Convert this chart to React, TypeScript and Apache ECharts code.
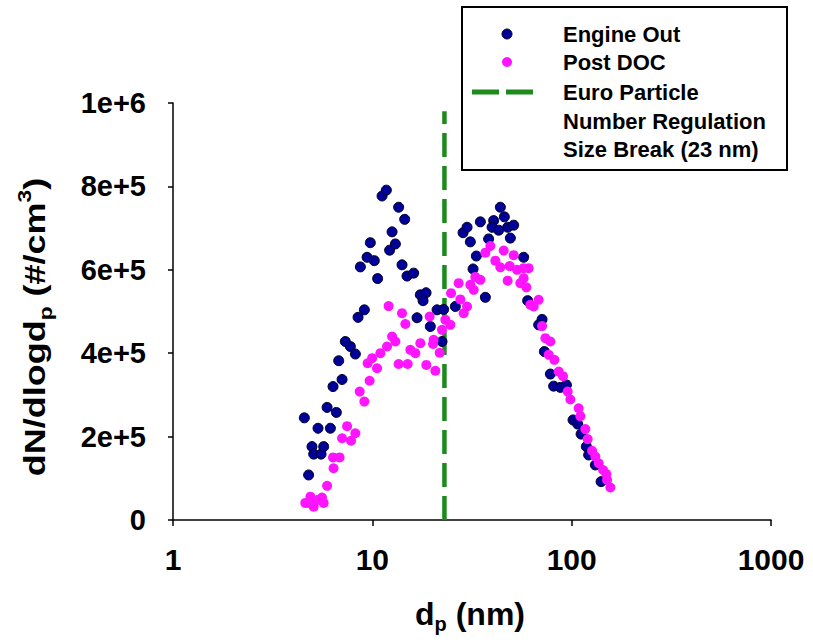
import React, { useEffect, useRef } from "react";
import * as echarts from "echarts";

// Engine Out: particle diameter (nm) and dN/dlogdp (#/cm3)
const engineDp = [
  4.56, 4.79, 4.98, 5.08, 5.53, 5.7, 5.34, 6.16, 5.93, 6.6, 6.35, 7.05, 6.78, 7.32, 7.76, 8.22,
  8.48, 9.12, 8.71, 9.41, 10.23, 9.77, 10.63, 11.19, 11.76, 12.21, 12.56, 13.05, 13.55, 14.53,
  14.09, 14.93, 16.12, 17.41, 18.6, 17.97, 16.76, 19.54, 21.12, 22.79, 22.37, 26.09, 28.52,
  29.87, 31.02, 33.25, 32.01, 34.83, 40.6, 39.87, 38.32, 43.03, 43.88, 45.95, 47.74, 51.17,
  49.25, 57.43, 36.9, 60.14, 71.04, 68.3, 72.95, 78.2, 81.2, 87.8, 94.1, 101.6, 107.2, 111.5,
  118.5, 121.7, 131.5, 140.5,
];
const engineN = [
  245000, 108000, 176000, 158000, 158000, 176000, 220000, 220000, 270000, 258000, 320000,
  337000, 382000, 428000, 416000, 398000, 486000, 504000, 607000, 630000, 622000, 665000,
  579000, 777000, 791000, 647000, 691000, 662000, 750000, 721000, 612000, 585000, 592000,
  540000, 545000, 526000, 485000, 464000, 504000, 505000, 428000, 512000, 689000, 702000,
  667000, 633000, 602000, 715000, 718000, 702000, 674000, 695000, 750000, 727000, 702000,
  707000, 676000, 630000, 534000, 526000, 481000, 468000, 404000, 350000, 321000, 318000,
  324000, 240000, 230000, 206000, 176000, 156000, 132000, 92000,
];

// Post DOC
const docDp = [
  4.61, 4.89, 5.28, 5.59, 5.08, 5.7, 4.77, 5.93, 6.39, 6.35, 6.85, 7.05, 7.82, 7.47, 8.22, 8.64,
  9.12, 9.69, 9.47, 10.56, 9.97, 10.97, 11.85, 13.05, 12.07, 14.09, 14.64, 12.56, 13.55, 15.04,
  15.51, 16.44, 17.41, 20.16, 21.77, 18.66, 20.71, 19.39, 23.25, 24.63, 22.37, 20.3, 24.83,
  27.1, 27.64, 29.87, 28.72, 31.02, 32.87, 32.24, 34.83, 36.9, 39.09, 41.41, 43.88, 45.6, 51.17,
  48.86, 53.2, 57.43, 60.85, 57.43, 47.74, 55.27, 59.25, 62.06, 68.3, 64.5, 71.04, 73.8, 78.2,
  76.7, 81.9, 86.1, 90.5, 95.5, 98.5, 108.4, 110.6, 117.1, 120.3, 126.6, 131.5, 136.6, 143.8,
  149.3, 150.5, 156.4,
];
const docN = [
  41000, 56000, 48000, 54000, 32000, 41000, 41000, 82000, 124000, 150000, 150000, 196000,
  190000, 225000, 208000, 308000, 284000, 334000, 376000, 364000, 388000, 400000, 416000,
  428000, 513000, 496000, 470000, 440000, 374000, 374000, 408000, 400000, 424000, 422000,
  401000, 372000, 358000, 488000, 480000, 468000, 456000, 432000, 544000, 568000, 529000,
  512000, 496000, 564000, 583000, 552000, 576000, 641000, 657000, 622000, 606000, 646000,
  635000, 609000, 600000, 604000, 604000, 580000, 574000, 568000, 558000, 516000, 528000,
  512000, 465000, 436000, 428000, 396000, 384000, 356000, 345000, 308000, 289000, 268000,
  249000, 218000, 194000, 166000, 152000, 136000, 120000, 110000, 96000, 78000,
];

// Euro particle number regulation size break
const breakDp = [23, 23];
const breakN = [0, 980000];

const xTicks = [1, 10, 100, 1000];
const yTicks = [0, 200000, 400000, 600000, 800000, 1000000];

const BLUE = "#000099";
const MAGENTA = "#ff14ff";
const GREEN = "#1c8a1c";
const FONT = "'Liberation Sans', Arial, sans-serif";

export default function App() {
  const ref = useRef<HTMLDivElement>(null);
  useEffect(() => {
    document.body.style.margin = "0";
    const chart = echarts.init(ref.current!, null, { renderer: "svg" });
    const pairs = (xs: number[], ys: number[]) => xs.map((x, i) => [x, ys[i]]);
    const legendTextStyle = {
      fontSize: 22,
      fontWeight: "bold",
      fontFamily: FONT,
      fill: "#000",
      verticalAlign: "middle",
      align: "left",
    };
    chart.setOption({
      animation: false,
      backgroundColor: "#fff",
      textStyle: { fontFamily: FONT },
      grid: { left: 173, right: 42, top: 103, bottom: 122, containLabel: false },
      xAxis: {
        type: "log",
        logBase: 10,
        min: xTicks[0],
        max: xTicks[xTicks.length - 1],
        axisLine: { show: true, lineStyle: { color: "#000", width: 1.5 } },
        axisTick: { show: true, length: 6, lineStyle: { color: "#000", width: 1.5 } },
        minorTick: { show: false },
        splitLine: { show: false },
        axisLabel: {
          fontSize: 30,
          fontWeight: "bold",
          color: "#000",
          margin: 24,
          showMaxLabel: true,
          showMinLabel: true,
          formatter: (v: number) => String(Math.round(v)),
        },
      },
      yAxis: {
        type: "value",
        min: yTicks[0],
        max: yTicks[yTicks.length - 1],
        interval: yTicks[1] - yTicks[0],
        axisLine: { show: true, lineStyle: { color: "#000", width: 1.5 } },
        axisTick: { show: true, length: 5, lineStyle: { color: "#000", width: 1.5 } },
        splitLine: { show: false },
        axisLabel: {
          fontSize: 29,
          fontWeight: "bold",
          color: "#000",
          margin: 27,
          formatter: (v: number) => (v === 0 ? "0" : v.toExponential(0)),
        },
      },
      series: [
        {
          name: "Euro Particle Number Regulation Size Break (23 nm)",
          type: "line",
          data: pairs(breakDp, breakN),
          symbol: "none",
          lineStyle: { color: GREEN, width: 4.5, type: [24, 9] },
          z: 1,
        },
        {
          name: "Engine Out",
          type: "scatter",
          data: pairs(engineDp, engineN),
          symbol: "circle",
          symbolSize: 10,
          itemStyle: { color: BLUE, borderColor: "#000022", borderWidth: 1, opacity: 1 },
          z: 2,
        },
        {
          name: "Post DOC",
          type: "scatter",
          data: pairs(docDp, docN),
          symbol: "circle",
          symbolSize: 10,
          itemStyle: { color: MAGENTA, opacity: 1 },
          z: 3,
        },
      ],
      graphic: [
        {
          type: "text",
          x: 35,
          y: 327,
          rotation: Math.PI / 2,
          scaleX: 1.2,
          style: {
            text: "{a|dN/dlogd}{s|p}{a| (#/cm}{u|3}{a|)}",
            align: "center",
            verticalAlign: "middle",
            fill: "#000",
            rich: {
              a: { fontSize: 30, fontWeight: "bold", fontFamily: FONT, lineHeight: 40 },
              s: { fontSize: 19, fontWeight: "bold", fontFamily: FONT, lineHeight: 19, verticalAlign: "bottom" },
              u: { fontSize: 19, fontWeight: "bold", fontFamily: FONT, lineHeight: 19, verticalAlign: "top" },
            },
          },
        },
        {
          type: "text",
          x: 470,
          y: 614,
          style: {
            text: "{a|d}{s|p}{a| (nm)}",
            align: "center",
            verticalAlign: "middle",
            fill: "#000",
            rich: {
              a: { fontSize: 32, fontWeight: "bold", fontFamily: FONT, lineHeight: 40 },
              s: { fontSize: 20, fontWeight: "bold", fontFamily: FONT, lineHeight: 20, verticalAlign: "bottom" },
            },
          },
        },
        {
          type: "group",
          children: [
            {
              type: "rect",
              shape: { x: 462, y: 7, width: 325, height: 163 },
              style: { fill: "#fff", stroke: "#000", lineWidth: 2 },
            },
            {
              type: "circle",
              shape: { cx: 507, cy: 34, r: 5 },
              style: { fill: BLUE, stroke: "#000022", lineWidth: 1 },
            },
            {
              type: "circle",
              shape: { cx: 507, cy: 62, r: 5 },
              style: { fill: MAGENTA },
            },
            {
              type: "line",
              shape: { x1: 472, y1: 92, x2: 533, y2: 92 },
              style: { stroke: GREEN, lineWidth: 5, lineDash: [27, 7] },
            },
            { type: "text", x: 563, y: 34, style: { ...legendTextStyle, text: "Engine Out" } },
            { type: "text", x: 563, y: 62, style: { ...legendTextStyle, text: "Post DOC" } },
            { type: "text", x: 563, y: 92, style: { ...legendTextStyle, text: "Euro Particle" } },
            { type: "text", x: 563, y: 121, style: { ...legendTextStyle, text: "Number Regulation" } },
            { type: "text", x: 563, y: 149, style: { ...legendTextStyle, text: "Size Break (23 nm)" } },
          ],
        },
      ],
    });
    return () => chart.dispose();
  }, []);
  return <div ref={ref} style={{ width: 813, height: 642 }} />;
}
